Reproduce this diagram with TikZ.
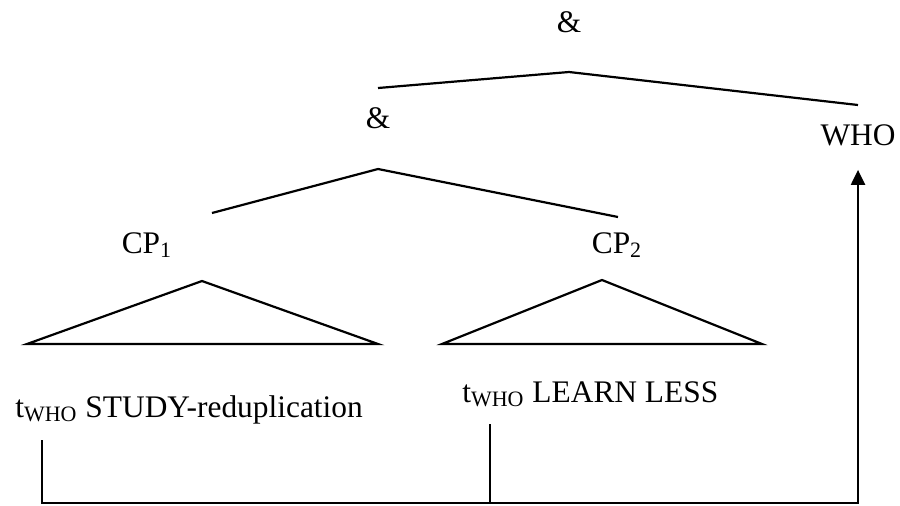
\documentclass[tikz,border=0pt]{standalone}
\usepackage{fontspec}
\setmainfont{Liberation Serif}
\usepackage{tikz}
\usetikzlibrary{positioning, arrows.meta}
\tikzset{
    x=0.5pt, y=-0.5pt, % one unit is one pixel of the layout, y runs downwards
    >={Triangle[width=7pt,length=7.5pt]}, % filled arrow head
    every node/.style={inner sep=0pt, font=\fontsize{15.7}{19}\selectfont}, % plain text labels
    branch/.style={line width=1.1pt}, % lines of the tree
    trace/.style={line width=1.1pt}, % the movement path
}

\begin{document}
\begin{tikzpicture}
    \useasboundingbox (0,0) rectangle (900,505);
%   labels of the tree
    \node[anchor=base] (top) at (569,32) {\&};
    \node[anchor=base] (conj) at (378,128) {\&};
    \node[anchor=base] (who) at (858,145) {WHO};
    \node[anchor=base] (cp1) at (147,253) {CP\textsubscript{1}};
    \node[anchor=base] (cp2) at (617,253) {CP\textsubscript{2}};
    \node[anchor=base west] (s1) at (15,417) {t\textsubscript{WHO} STUDY-reduplication};
    \node[anchor=base west] (s2) at (462,402) {t\textsubscript{WHO} LEARN LESS};

%   branch points
    \coordinate (top-l) at (378,88);
    \coordinate (top-c) at (569,72);
    \coordinate (top-r) at (858,105);
    \coordinate (conj-l) at (212,213);
    \coordinate (conj-c) at (378,169);
    \coordinate (conj-r) at (618,217);
    \coordinate (cp1-t) at (202,281);
    \coordinate (cp1-l) at (27,344);
    \coordinate (cp1-r) at (378,344);
    \coordinate (cp2-t) at (602,280);
    \coordinate (cp2-l) at (442,344);
    \coordinate (cp2-r) at (762,344);

%   path of the trace
    \coordinate (t1) at (42,440);
    \coordinate (t2) at (490,424);
    \coordinate (b1) at (42,503);
    \coordinate (b2) at (490,503);
    \coordinate (b3) at (858,503);
    \coordinate[below=12pt of who] (goal);

    \draw[branch] (top-l) -- (top-c) -- (top-r);
    \draw[branch] (conj-l) -- (conj-c) -- (conj-r);
    \draw[branch] (cp1-t) -- (cp1-l) -- (cp1-r) -- cycle;
    \draw[branch] (cp2-t) -- (cp2-l) -- (cp2-r) -- cycle;

    \draw[trace, ->] (t1) -- (b1) -- (b3) -- (goal);
    \draw[trace] (t2) -- (b2);
\end{tikzpicture}
\end{document}
